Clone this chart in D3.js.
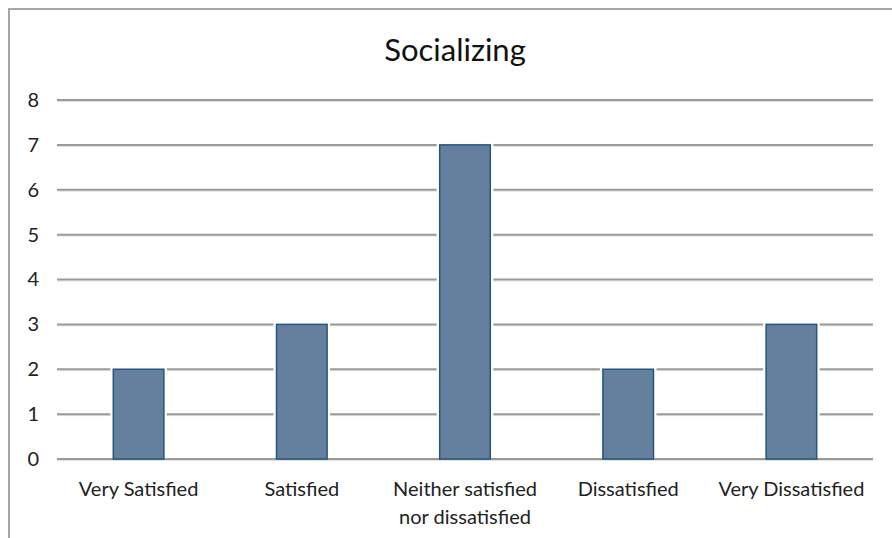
<!DOCTYPE html>
<html>
<head>
<meta charset="utf-8">
<script src="https://cdn.jsdelivr.net/npm/d3@7"></script>
<style>
  html, body { margin: 0; padding: 0; background: #fff; }
  svg { display: block; font-family: Lato, "Open Sans", sans-serif; }
</style>
</head>
<body>
<svg id="chart" width="892" height="538"></svg>
<script>
// Survey responses for "Socializing"
const categories = [
  ["Very Satisfied"],
  ["Satisfied"],
  ["Neither satisfied", "nor dissatisfied"],
  ["Dissatisfied"],
  ["Very Dissatisfied"]
];
const counts = [2, 3, 7, 2, 3];
const yTicks = [0, 1, 2, 3, 4, 5, 6, 7, 8];
const title = "Socializing";

const svg = d3.select("#chart");
const W = 892, H = 538;
const plot = { left: 57, right: 873, top: 100, bottom: 459 };

// Outer chart frame
svg.append("rect")
  .attr("x", 9).attr("y", 9)
  .attr("width", W + 20).attr("height", H + 20)
  .attr("fill", "#fff")
  .attr("stroke", "#a6a6a6").attr("stroke-width", 2);

svg.append("text")
  .attr("x", 455).attr("y", 61)
  .attr("text-anchor", "middle")
  .attr("font-size", 31)
  .attr("fill", "#111")
  .text(title);

const x = d3.scaleBand()
  .domain(d3.range(categories.length))
  .range([plot.left, plot.right])
  .paddingInner(0.69).paddingOuter(0.345);

const y = d3.scaleLinear()
  .domain([0, 8])
  .range([plot.bottom, plot.top]);

// Horizontal gridlines with a faint shadow
const grid = svg.append("g");
grid.selectAll("line.shadow").data(yTicks).join("line")
  .attr("class", "shadow")
  .attr("x1", plot.left).attr("x2", plot.right)
  .attr("y1", d => y(d) + 1.5).attr("y2", d => y(d) + 1.5)
  .attr("stroke", "#e2e2e2").attr("stroke-width", 1);
grid.selectAll("line.main").data(yTicks).join("line")
  .attr("class", "main")
  .attr("x1", plot.left).attr("x2", plot.right)
  .attr("y1", d => y(d)).attr("y2", d => y(d))
  .attr("stroke", "#9a9a9a").attr("stroke-width", 2);

// Y axis labels
const yAxis = d3.axisLeft(y).tickValues(yTicks).tickSize(0).tickPadding(0).tickFormat(d3.format("d"));
svg.append("g")
  .attr("transform", `translate(${39},0)`)
  .call(yAxis)
  .call(g => g.select(".domain").remove())
  .call(g => g.selectAll("text")
    .attr("font-size", 20)
    .attr("fill", "#222")
    .attr("font-family", "Lato, 'Open Sans', sans-serif"));

// Bars (white gap around them over gridlines)
svg.append("g").selectAll("rect.gap").data(counts).join("rect")
  .attr("x", (d, i) => x(i) - 3)
  .attr("y", d => y(d) - 2)
  .attr("width", x.bandwidth() + 6)
  .attr("height", d => y(0) - y(d))
  .attr("fill", "#fff");

svg.append("g").selectAll("rect.bar").data(counts).join("rect")
  .attr("x", (d, i) => x(i))
  .attr("y", d => y(d))
  .attr("width", x.bandwidth())
  .attr("height", d => y(0) - y(d))
  .attr("fill", "#65809f")
  .attr("stroke", "#24557f").attr("stroke-width", 1.5);

// Category labels
const labels = svg.append("g");
categories.forEach((lines, i) => {
  const t = labels.append("text")
    .attr("x", x(i) + x.bandwidth() / 2)
    .attr("y", 496)
    .attr("text-anchor", "middle")
    .attr("font-size", 20)
    .attr("fill", "#222");
  lines.forEach((ln, j) => {
    t.append("tspan")
      .attr("x", x(i) + x.bandwidth() / 2)
      .attr("dy", j === 0 ? 0 : 28)
      .text(ln);
  });
});
</script>
</body>
</html>
